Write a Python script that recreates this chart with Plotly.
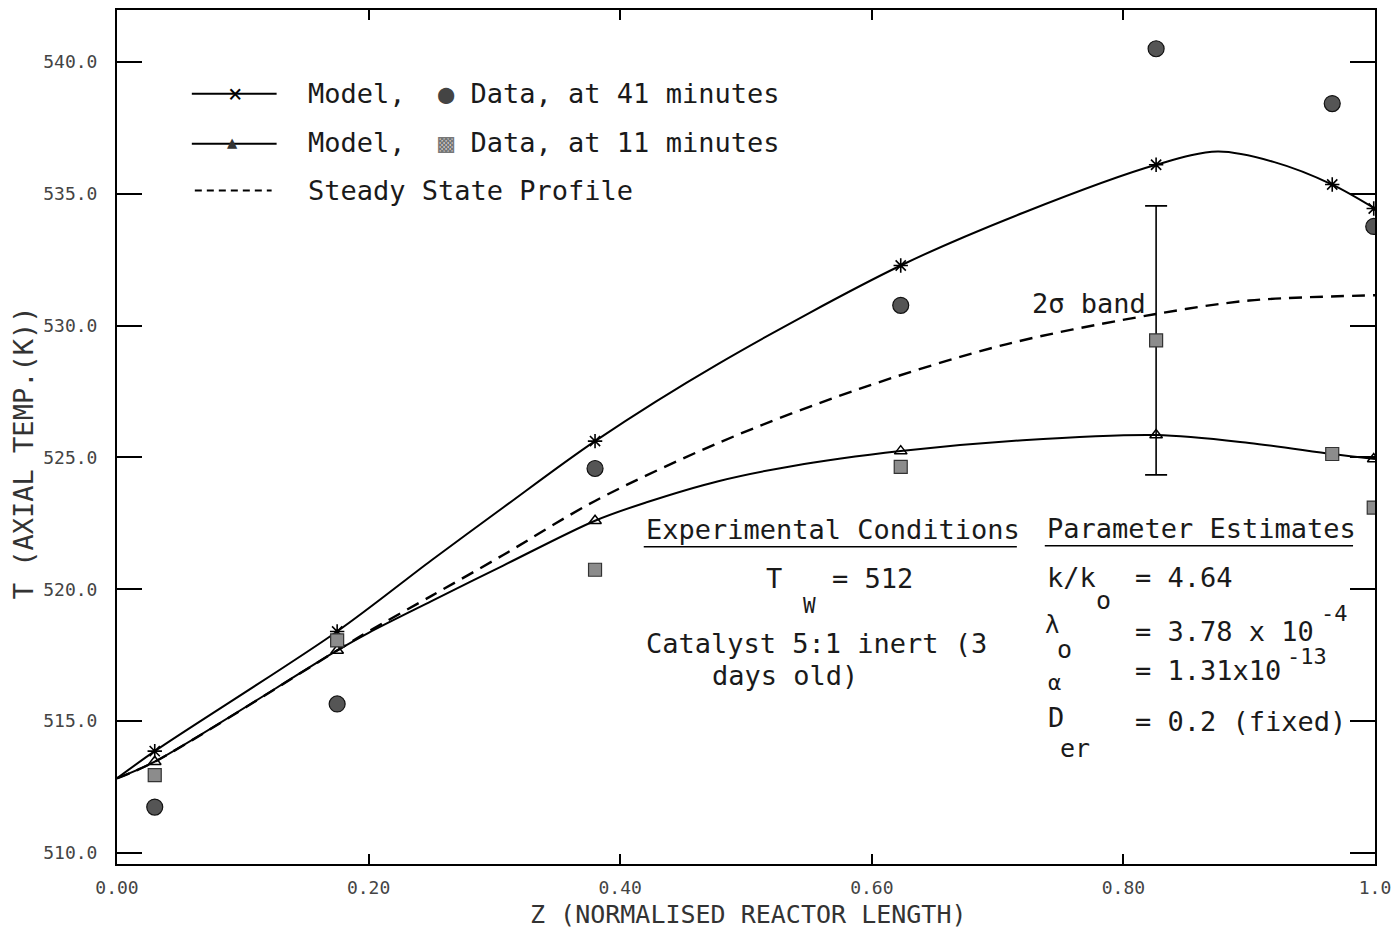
import plotly.graph_objects as go

# ---------------- data ----------------
Z_PTS = [0.03, 0.175, 0.38, 0.623, 0.826, 0.966, 0.999]
T_DATA_41 = [511.74, 515.65, 524.58, 530.77, 540.5, 538.42, 533.76]
T_DATA_11 = [512.95, 518.06, 520.74, 524.64, 529.44, 525.13, 523.1]
T_MODEL_41_PTS = [513.86, 518.4, 525.62, 532.28, 536.1, 535.35, 534.44]
T_MODEL_11_PTS = [513.46, 517.68, 522.6, 525.24, 525.85, 525.13, 524.94]
BAND_IDX = 4          # the 11-minute point that carries the 2-sigma band
BAND_HALF = 5.1       # half width of the 2-sigma band (K)

Z_CURVE_41 = [0.0, 0.03, 0.175, 0.25, 0.307, 0.38, 0.478, 0.623, 0.7214, 0.826, 0.875, 0.92, 0.966, 1.0]
T_CURVE_41 = [512.83, 513.86, 518.4, 521.1, 523.1, 525.62, 528.55, 532.28, 534.3, 536.1, 536.6, 536.2, 535.35, 534.44]

Z_CURVE_11 = [0.0, 0.03, 0.175, 0.2, 0.25, 0.307, 0.38, 0.421, 0.478, 0.534, 0.623, 0.72, 0.826, 0.9, 0.966, 1.0]
T_CURVE_11 = [512.83, 513.46, 517.68, 518.35, 519.55, 520.9, 522.6, 523.3, 524.1, 524.65, 525.24, 525.65, 525.85, 525.55, 525.13, 524.94]

Z_STEADY = [0.0, 0.03, 0.175, 0.2, 0.25, 0.307, 0.38, 0.478, 0.59, 0.7075, 0.8247, 0.9, 1.0]
T_STEADY = [512.83, 513.46, 517.68, 518.4, 519.75, 521.3, 523.35, 525.55, 527.6, 529.3, 530.43, 530.95, 531.15]

X_TICKS = [0.0, 0.2, 0.4, 0.6, 0.8, 1.0]
X_TICK_TEXT = ["0.00", "0.20", "0.40", "0.60", "0.80", "1.0"]
Y_TICKS = [510, 515, 520, 525, 530, 535, 540]
Y_TICK_TEXT = ["510.0", "515.0", "520.0", "525.0", "530.0", "535.0", "540.0"]

# ---------------- layout helpers (pixel -> paper) ----------------
L, R, TOP, BOT = 117, 1378, 8, 864
def ax(px):
    return (px - L) / (R - L)
def ay(py):
    return (BOT - py) / (BOT - TOP)

MONO = "DejaVu Sans Mono"
TXT = "#1a1a1a"

fig = go.Figure()

fig.add_trace(go.Scatter(x=Z_STEADY, y=T_STEADY, mode="lines",
                         line=dict(color="black", width=2.4, dash="13px,8px", shape="spline", smoothing=0.9),
                         showlegend=False, hoverinfo="skip"))
fig.add_trace(go.Scatter(x=Z_CURVE_41, y=T_CURVE_41, mode="lines",
                         line=dict(color="black", width=2, shape="spline", smoothing=0.9),
                         showlegend=False, hoverinfo="skip"))
fig.add_trace(go.Scatter(x=Z_CURVE_11, y=T_CURVE_11, mode="lines",
                         line=dict(color="black", width=2, shape="spline", smoothing=0.9),
                         showlegend=False, hoverinfo="skip"))
# 2-sigma band on one 11-minute data point
fig.add_trace(go.Scatter(x=[Z_PTS[BAND_IDX]], y=[T_DATA_11[BAND_IDX]], mode="markers",
                         marker=dict(size=1, color="rgba(0,0,0,0)"),
                         error_y=dict(type="constant", value=BAND_HALF, visible=True,
                                      color="black", thickness=1.6, width=11),
                         showlegend=False, hoverinfo="skip"))
fig.add_trace(go.Scatter(x=Z_PTS, y=T_MODEL_41_PTS, mode="markers",
                         marker=dict(symbol="asterisk-open", size=12, color="black",
                                     line=dict(color="black", width=1.6)),
                         showlegend=False))
fig.add_trace(go.Scatter(x=Z_PTS, y=T_MODEL_11_PTS, mode="markers",
                         marker=dict(symbol="triangle-up-open", size=11, color="black",
                                     line=dict(color="#222", width=1.5)),
                         showlegend=False))
fig.add_trace(go.Scatter(x=Z_PTS, y=T_DATA_41, mode="markers",
                         marker=dict(symbol="circle", size=16, color="#555555",
                                     line=dict(color="#111", width=1.2)),
                         showlegend=False))
fig.add_trace(go.Scatter(x=Z_PTS, y=T_DATA_11, mode="markers",
                         marker=dict(symbol="square", size=13, color="#8c8c8c",
                                     line=dict(color="#333", width=1.2)),
                         showlegend=False))

ann = []
def txt(text, px, py, size=27, xanchor="left", color=TXT, angle=0):
    ann.append(dict(text=text, x=ax(px), y=ay(py), xref="paper", yref="paper",
                    xanchor=xanchor, yanchor="middle", showarrow=False,
                    textangle=angle, font=dict(family=MONO, size=size, color=color)))

# legend texts
txt('Model,  <span style="color:#444">●</span> Data, at 41 minutes', 306, 92)
txt('Model,  <span style="color:#777">▩</span> Data, at 11 minutes', 306, 141)
txt('Steady State Profile', 306, 189)
txt('×', 235, 92, size=24, xanchor="center", color="black")
txt('▲', 233, 140, size=17, xanchor="center", color="#333")

# annotations inside the plot
txt('2σ band', 1032, 302)
txt('Experimental Conditions', 645, 529)
txt('Parameter Estimates', 1047, 528)
txt('T', 776, 578, xanchor="center")
txt('W', 811, 605, size=21, xanchor="center")
txt('= 512', 832, 578)
txt('Catalyst 5:1 inert (3', 645, 643)
txt('days old)', 711, 675)
txt('k/k', 1047, 577)
txt('o', 1106, 600, size=25, xanchor="center")
txt('= 4.64', 1135, 577)
txt('λ', 1054, 624, size=24, xanchor="center")
txt('o', 1067, 649, size=25, xanchor="center")
txt('= 3.78 x 10', 1135, 631)
txt('-4', 1322, 613, size=22)
txt('α', 1057, 682, size=22, xanchor="center")
txt('= 1.31x10', 1135, 670)
txt('-13', 1288, 656, size=22)
txt('D', 1058, 717, xanchor="center")
txt('er', 1077, 748, size=25, xanchor="center")
txt('= 0.2 (fixed)', 1135, 721)

# axis titles
txt('Z (NORMALISED REACTOR LENGTH)', 750, 915, size=25, xanchor="center", color="#333")
txt('T (AXIAL TEMP.(K))', 24, 452, size=27, xanchor="center", color="#333", angle=-90)

shapes = []
def hline(x0, x1, y, dash="solid", width=2):
    shapes.append(dict(type="line", xref="paper", yref="paper", x0=ax(x0), x1=ax(x1),
                       y0=ay(y), y1=ay(y), line=dict(color="black", width=width, dash=dash)))
hline(192, 277, 92)
hline(192, 277, 142)
hline(195, 272, 189, dash="7px,5px")
hline(645, 1019, 546, width=1.5)
hline(1047, 1356, 545, width=1.5)

fig.update_layout(
    width=1399, height=928,
    margin=dict(l=L, r=1399 - R, t=TOP, b=928 - BOT),
    paper_bgcolor="white", plot_bgcolor="white",
    annotations=ann, shapes=shapes,
    xaxis=dict(range=[0, 1.0], tickvals=X_TICKS, ticktext=X_TICK_TEXT,
               ticks="inside", ticklen=10, tickwidth=1.5, tickcolor="black",
               showline=True, linecolor="black", linewidth=2, mirror="ticks",
               showgrid=False, zeroline=False,
               tickfont=dict(family=MONO, size=18, color="#444"), ticklabelstandoff=6),
    yaxis=dict(range=[509.58, 541.97], tickvals=Y_TICKS, ticktext=Y_TICK_TEXT,
               ticks="inside", ticklen=25, tickwidth=1.5, tickcolor="black",
               showline=True, linecolor="black", linewidth=2, mirror="ticks",
               showgrid=False, zeroline=False,
               tickfont=dict(family=MONO, size=18, color="#444"), ticklabelstandoff=14),
)

fig.write_html("out.html")
